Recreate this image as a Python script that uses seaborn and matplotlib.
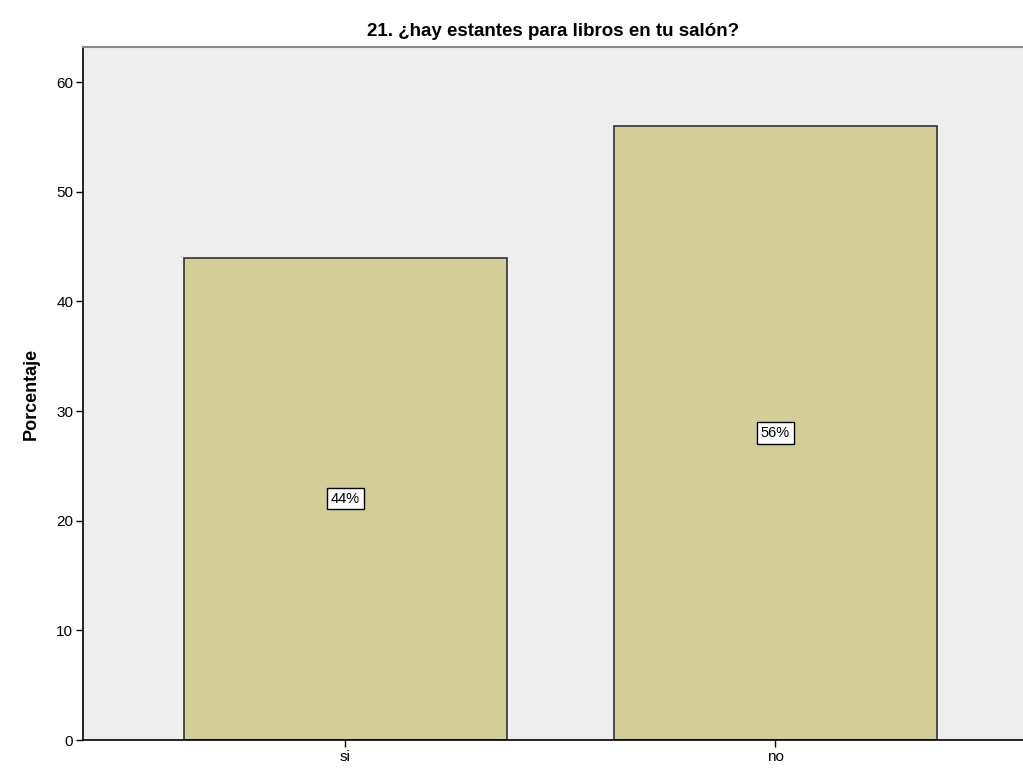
import matplotlib
matplotlib.use("Agg")
import matplotlib.pyplot as plt
import seaborn as sns
import pandas as pd

categories = ["si", "no"]
percentages = [44, 56]
labels = ["44%", "56%"]

sns.set_style("white")
plt.rcParams["font.family"] = ["Liberation Sans", "DejaVu Sans"]
plt.rcParams["text.color"] = "black"
plt.rcParams["axes.labelcolor"] = "black"
plt.rcParams["xtick.color"] = "black"
plt.rcParams["ytick.color"] = "black"

df = pd.DataFrame({"cat": categories, "pct": percentages})

fig = plt.figure(figsize=(10.23, 7.73), dpi=100)
ax = fig.add_axes([83 / 1023, 33 / 773, 940 / 1023, 693 / 773])
ax.set_facecolor("#EEEEEE")

sns.barplot(data=df, x="cat", y="pct", color="#D3CE98", saturation=1,
            width=0.75, edgecolor="#333333", linewidth=1.2, ax=ax)

for i, (v, lab) in enumerate(zip(percentages, labels)):
    ax.text(i, v / 2, lab, ha="center", va="center", fontsize=10.5,
            bbox=dict(boxstyle="square,pad=0.25", facecolor="white",
                      edgecolor="black", linewidth=1))

ax.set_xlim(-0.61, 1.576)
ax.set_ylim(0, 63.2)
ax.set_yticks([0, 10, 20, 30, 40, 50, 60])
ax.set_xlabel("")
ax.set_ylabel("Porcentaje", fontsize=13, fontweight="bold", labelpad=12)
ax.set_title("21. ¿hay estantes para libros en tu salón?", fontsize=13.5,
             fontweight="bold", pad=8)

for s in ["left", "bottom"]:
    ax.spines[s].set_color("black")
    ax.spines[s].set_linewidth(1.2)
ax.spines["top"].set_color("#888888")
ax.spines["top"].set_linewidth(1.5)
ax.spines["right"].set_visible(False)
ax.tick_params(axis="both", which="both", length=5, width=1, color="black",
               labelsize=11, left=True, bottom=True, pad=2)

fig.savefig("out.png", dpi=100)
